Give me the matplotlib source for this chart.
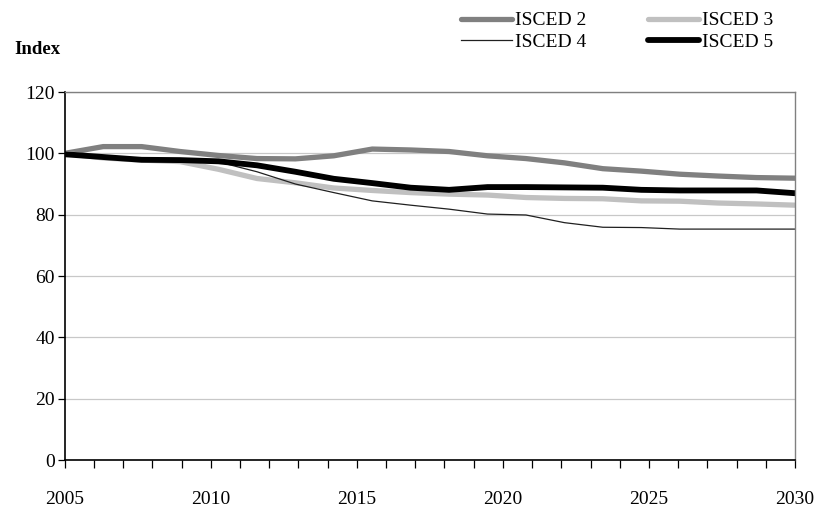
import matplotlib.pyplot as plt
from matplotlib.ticker import MultipleLocator
import numpy as np

plt.rcParams['font.family'] = ['Liberation Serif', 'DejaVu Serif']

# 20 data points spread evenly over 2005-2030
years = np.linspace(2005, 2030, 20)

isced2 = [100, 102.2, 102.2, 100.6, 99.3, 98.3, 98.2, 99.2, 101.4, 101.1,
          100.6, 99.2, 98.3, 96.9, 95.0, 94.2, 93.2, 92.6, 92.1, 91.9]
isced3 = [100, 98.5, 97.8, 97.3, 94.8, 91.8, 90.4, 88.7, 87.9, 87.2,
          86.7, 86.4, 85.6, 85.3, 85.2, 84.5, 84.4, 83.8, 83.5, 83.1]
isced4 = [100, 99.2, 98.4, 97.9, 97.2, 94.0, 90.0, 87.2, 84.5, 83.1,
          81.8, 80.2, 79.9, 77.4, 75.9, 75.8, 75.3, 75.3, 75.3, 75.3]
isced5 = [99.7, 98.8, 97.9, 97.8, 97.4, 96.1, 94.0, 91.7, 90.3, 88.8,
          88.1, 89.0, 89.0, 88.9, 88.8, 88.1, 87.9, 87.9, 87.9, 87.0]

fig = plt.figure(figsize=(8.2, 5.07), dpi=100)
ax = fig.add_axes([0.079, 0.0927, 0.8905, 0.7258])

l2, = ax.plot(years, isced2, color='#808080', lw=3.8, solid_capstyle='round', label='ISCED 2')
l3, = ax.plot(years, isced3, color='#c0c0c0', lw=3.8, solid_capstyle='round', label='ISCED 3')
l4, = ax.plot(years, isced4, color='#202020', lw=0.9, label='ISCED 4')
l5, = ax.plot(years, isced5, color='black', lw=4.2, solid_capstyle='round', label='ISCED 5')

ax.set_xlim(2005, 2030)
ax.set_ylim(0, 120)
ax.yaxis.set_major_locator(MultipleLocator(20))
ax.xaxis.set_major_locator(MultipleLocator(5))
ax.xaxis.set_minor_locator(MultipleLocator(1))
ax.grid(axis='y', color='#c8c8c8', lw=0.9)
ax.set_axisbelow(True)

for s in ['top', 'right']:
    ax.spines[s].set_color('#808080')
    ax.spines[s].set_linewidth(1.0)
for s in ['left', 'bottom']:
    ax.spines[s].set_color('black')
    ax.spines[s].set_linewidth(1.2)

ax.tick_params(axis='x', which='both', direction='out', length=6, width=0.9, labelsize=14, pad=16)
ax.tick_params(axis='y', direction='out', length=5, width=0.9, labelsize=14, pad=2)

fig.text(0.018, 0.893, 'Index', fontsize=13.5, fontweight='bold')

fig.legend(handles=[l2, l4, l3, l5], ncol=2, frameon=False, fontsize=14,
           loc='upper left', bbox_to_anchor=(0.553, 0.992),
           handlelength=2.6, handletextpad=0.15, columnspacing=3.2,
           labelspacing=0.2, borderaxespad=0)

fig.savefig('out.png', dpi=100)
